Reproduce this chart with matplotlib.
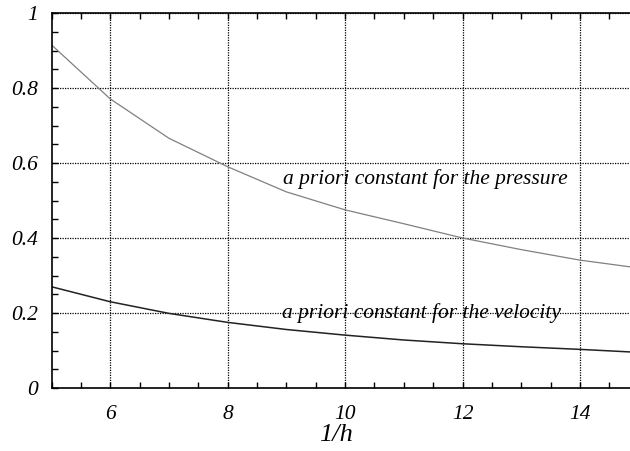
import matplotlib
matplotlib.use("Agg")
import matplotlib.pyplot as plt
from matplotlib.ticker import MultipleLocator, FixedLocator

inv_h = [5, 6, 7, 8, 9, 10, 11, 12, 13, 14, 15]
pressure = [0.915, 0.771, 0.666, 0.590, 0.523, 0.475, 0.438, 0.400, 0.369, 0.341, 0.320]
velocity = [0.270, 0.230, 0.199, 0.175, 0.156, 0.141, 0.128, 0.118, 0.110, 0.103, 0.095]
xticks = [6, 8, 10, 12, 14]
xticklabels = ["6", "8", "10", "12", "14"]
yticks = [0, 0.2, 0.4, 0.6, 0.8, 1.0]
yticklabels = ["0", "0.2", "0.4", "0.6", "0.8", "1"]
label_p = "a priori constant for the pressure"
label_v = "a priori constant for the velocity"
xlabel = "1/h"

plt.rcParams['font.family'] = ['Liberation Serif', 'DejaVu Serif']
plt.rcParams['font.style'] = 'italic'

fig = plt.figure(figsize=(6.3, 4.51), dpi=100)
W, H = 630, 451
left_px, right_px, top_px, bottom_px = 51.5, 630, 13, 388
ax = fig.add_axes([left_px / W, (H - bottom_px) / H, (right_px - left_px) / W, (bottom_px - top_px) / H])

unit = 58.72
ax.set_xlim(5, 5 + (right_px - left_px) / unit)
ax.set_ylim(0, 1)

ax.plot(inv_h, pressure, color='#808080', lw=0.9)
ax.plot(inv_h, velocity, color='#222222', lw=1.1)

ax.xaxis.set_major_locator(FixedLocator(xticks))
ax.set_xticklabels(xticklabels)
ax.xaxis.set_minor_locator(MultipleLocator(0.5))
ax.yaxis.set_major_locator(FixedLocator(yticks))
ax.set_yticklabels(yticklabels)
ax.yaxis.set_minor_locator(MultipleLocator(0.05))

ax.tick_params(which='both', direction='in', top=True, bottom=True, left=True, right=False,
               length=4.5, width=1, labelsize=15.5)
ax.tick_params(axis='x', which='major', pad=12)
ax.tick_params(axis='y', which='major', pad=10)
for lab in ax.get_xticklabels() + ax.get_yticklabels():
    lab.set_fontstyle('italic')

ax.spines['right'].set_visible(False)
for s in ['left', 'top', 'bottom']:
    ax.spines[s].set_linewidth(1.2)

ax.grid(True, which='major', color='black', linestyle=(0, (1, 1)), lw=0.9)

ax.text(8.94, 0.544, label_p, fontsize=15.5, style='italic', ha='left', va='baseline')
ax.text(8.92, 0.187, label_v, fontsize=15.5, style='italic', ha='left', va='baseline')

ax.set_xlabel(xlabel, fontsize=19, style='italic')
ax.xaxis.set_label_coords((336 - left_px) / (right_px - left_px), -0.095)

fig.savefig("out.png", dpi=100)
